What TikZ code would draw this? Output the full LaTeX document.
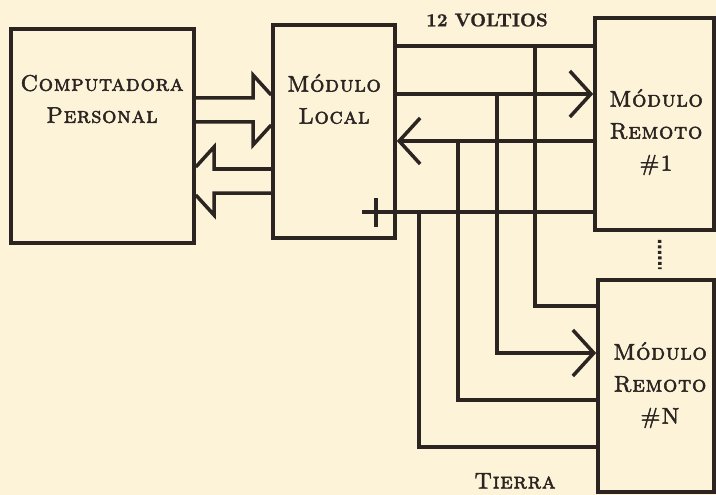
\documentclass[tikz,border=0pt]{standalone}
\usepackage{fontspec}
\usetikzlibrary{arrows.meta, positioning}

\newfontfamily\capsfont{lmromancaps10-regular.otf}[FakeBold=2.2, LetterSpace=3]
\newfontfamily\tagfont{lmroman10-bold.otf}[FakeBold=1]
\definecolor{paper}{HTML}{FCF3D9}
\definecolor{ink}{HTML}{2B2421}

\begin{document}
\begin{tikzpicture}[
    x=1pt, y=-1pt,
    box/.style={rectangle, draw=ink, line width=3.6pt, inner sep=0pt},
    lbl/.style={align=center, text=ink, inner sep=0pt,
                font=\capsfont\fontsize{22.5}{32}\selectfont},
    tag/.style={text=ink, inner sep=0pt,
                font=\tagfont\fontsize{18.5}{20}\selectfont},
    wire/.style={draw=ink, line width=3.5pt},
    sig/.style={wire, -{Straight Barb[length=21pt, width=46pt]}},
    bus/.style={draw=ink, line width=3.5pt, line join=miter},
    vdots/.style={draw=ink, line width=3.5pt, dash pattern=on 3pt off 2.5pt}
]
\fill[paper] (0,0) rectangle (716,495);
\useasboundingbox (0,0) rectangle (716,495);

%% bloques
\node[box, minimum width=183pt, minimum height=214pt] (cp) at (102.5,136) {};
\node[box, minimum width=122pt, minimum height=213pt] (ml) at (334,131.5) {};
\node[box, minimum width=119pt, minimum height=212pt] (r1) at (654.5,124) {};
\node[box, minimum width=116pt, minimum height=212pt] (rn) at (656,386) {};

\node[lbl] (cp_txt) at (102,99) {Computadora\\Personal};
\node[lbl] (ml_txt) at (334,99) {Módulo\\Local};
\node[lbl] (r1_txt) at (656,132) {Módulo\\Remoto\\\#1};
\node[lbl] (rn_txt) at (660,385) {Módulo\\Remoto\\\#N};

\draw[vdots] ([xshift=5pt,yshift=-8pt]r1.south) -- ([xshift=4pt,yshift=9pt]rn.north);

%% bus PC <-> modulo local
\draw[bus] (cp.east |- 0,98) -- (253,98) -- (253,75) -- (ml.west |- 0,95);
\draw[bus] (ml.west |- 0,125) -- (253,145) -- (253,122) -- (cp.east |- 0,122);
\draw[bus] (ml.west |- 0,169) -- (214,169) -- (214,147) -- (cp.east |- 0,167);
\draw[bus] (cp.east |- 0,195) -- (214,215) -- (214,193) -- (ml.west |- 0,193);

%% lineas hacia los remotos
\coordinate (j12) at (535,46);
\coordinate (jout) at (497,94);
\coordinate (jin) at (458,141);
\coordinate (gnd) at (376,212);
\coordinate (jgnd) at (419,212);

\draw[wire] (ml.east |- j12) -- (r1.west |- j12);
\draw[wire] (j12) |- (rn.west |- 0,306);

\draw[sig] (ml.east |- jout) -- (r1.west |- jout);
\draw[sig] (jout) |- (rn.west |- 0,353);

\draw[sig] (r1.west |- jin) -- (ml.east |- jin);
\draw[wire] (jin) |- (rn.west |- 0,400);

\draw[wire] ([xshift=-14pt]gnd) -- (r1.west |- gnd);
\draw[wire] ([yshift=14pt]gnd) -- ([yshift=-15pt]gnd);
\draw[wire] (jgnd) |- (rn.west |- 0,447);

\node[tag] (v12_lbl) at (487,20) {12 VOLTIOS};
\node[lbl] (gnd_lbl) at (515,481) {Tierra};

\end{tikzpicture}
\end{document}
